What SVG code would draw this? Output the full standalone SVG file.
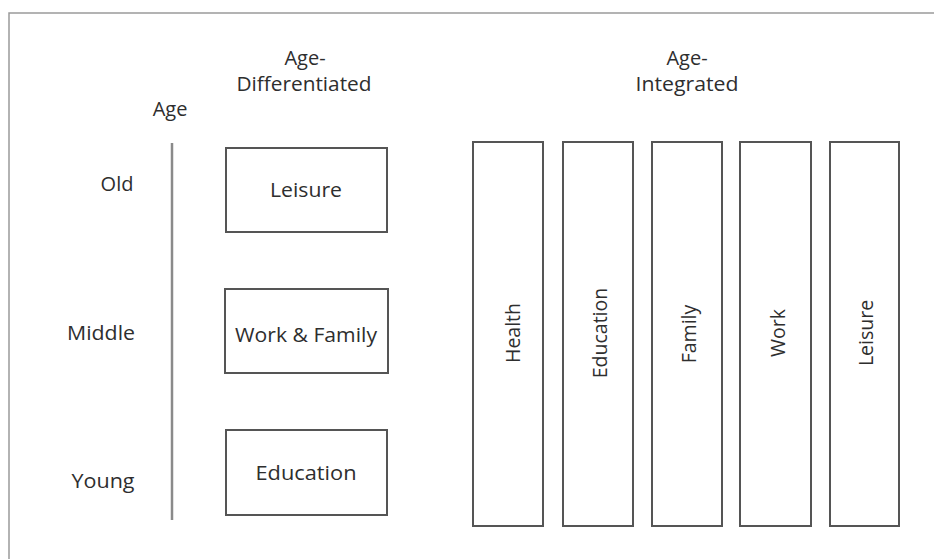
<svg xmlns="http://www.w3.org/2000/svg" width="934" height="559" viewBox="0 0 934 559">
<style>
  .frame { fill: none; stroke: #9a9a9a; stroke-width: 1.5; }
  .axis { stroke: #8a8a8a; stroke-width: 2.5; fill: none; }
  .box { fill: #ffffff; stroke: #555555; stroke-width: 2; }
  .t { font-family: "Open Sans", "Noto Sans", sans-serif; font-size: 20px; font-weight: 500; fill: #2e2e2e; text-anchor: middle; }
  .v { font-size: 19.5px; }
</style>
<rect width="934" height="559" fill="#ffffff"/>
<g id="frame">
  <path class="frame" d="M9,559 L9,13 L934,13"/>
</g>
<g id="headers">
  <text class="t" x="305" y="65">Age-</text>
  <text class="t" x="304" y="91" textLength="135" lengthAdjust="spacingAndGlyphs">Differentiated</text>
  <text class="t" x="687" y="65">Age-</text>
  <text class="t" x="687" y="91" textLength="103" lengthAdjust="spacingAndGlyphs">Integrated</text>
  <text class="t" x="170" y="116">Age</text>
</g>
<g id="age-axis">
  <line class="axis" x1="172" y1="143" x2="172" y2="520"/>
  <text class="t" x="117" y="191">Old</text>
  <text class="t" x="101" y="340" textLength="68" lengthAdjust="spacingAndGlyphs">Middle</text>
  <text class="t" x="103" y="488" textLength="63" lengthAdjust="spacingAndGlyphs">Young</text>
</g>
<g id="connectors"></g>
<g id="diff-leisure">
  <rect class="box" x="226" y="148" width="161" height="84"/>
  <text class="t" x="306" y="197" textLength="72" lengthAdjust="spacingAndGlyphs">Leisure</text>
</g>
<g id="diff-workfamily">
  <rect class="box" x="225" y="289" width="163" height="84"/>
  <text class="t" x="306" y="342" textLength="142" lengthAdjust="spacingAndGlyphs">Work &amp; Family</text>
</g>
<g id="diff-education">
  <rect class="box" x="226" y="430" width="161" height="85"/>
  <text class="t" x="306" y="480" textLength="101" lengthAdjust="spacingAndGlyphs">Education</text>
</g>
<g id="int-health">
  <rect class="box" x="473" y="142" width="70" height="384"/>
  <text class="t v" transform="translate(520,333) rotate(-90)">Health</text>
</g>
<g id="int-education">
  <rect class="box" x="563" y="142" width="70" height="384"/>
  <text class="t v" transform="translate(607,333) rotate(-90)">Education</text>
</g>
<g id="int-family">
  <rect class="box" x="652" y="142" width="70" height="384"/>
  <text class="t v" transform="translate(696,334) rotate(-90)">Family</text>
</g>
<g id="int-work">
  <rect class="box" x="740" y="142" width="71" height="384"/>
  <text class="t v" transform="translate(785,333) rotate(-90)">Work</text>
</g>
<g id="int-leisure">
  <rect class="box" x="830" y="142" width="69" height="384"/>
  <text class="t v" transform="translate(873,333) rotate(-90)">Leisure</text>
</g>
</svg>
